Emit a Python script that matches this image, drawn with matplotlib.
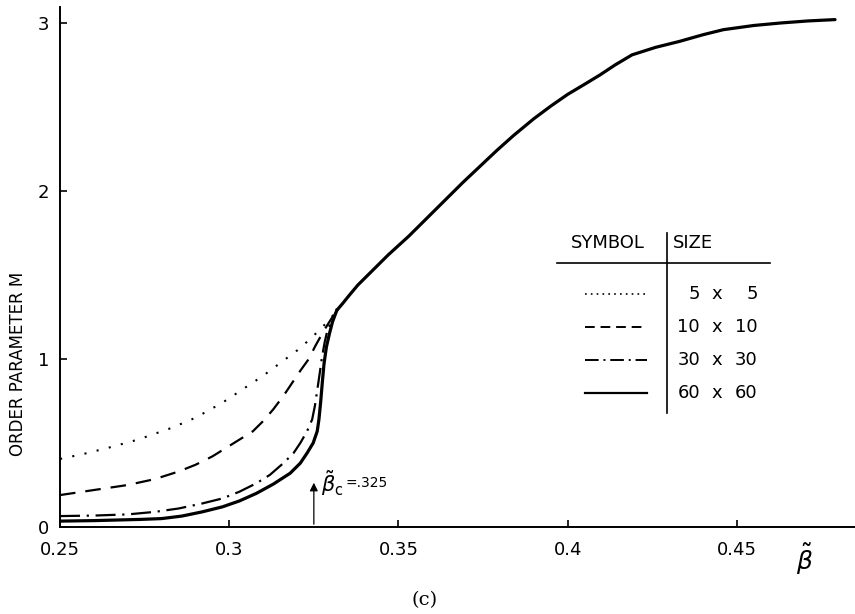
import matplotlib
matplotlib.use("Agg")
import matplotlib.pyplot as plt

# wspolna czesc krzywej (powyzej punktu zlaczenia)
beta_common = [0.3318, 0.3335, 0.3355, 0.338, 0.342, 0.347, 0.353, 0.359,
               0.364, 0.369, 0.374, 0.379, 0.384, 0.390, 0.395, 0.400,
               0.405, 0.4095, 0.414, 0.419, 0.426, 0.433, 0.440, 0.446,
               0.455, 0.463, 0.471, 0.479]
m_common = [1.29, 1.33, 1.38, 1.44, 1.52, 1.62, 1.73, 1.85,
            1.95, 2.05, 2.145, 2.24, 2.33, 2.43, 2.505, 2.575,
            2.635, 2.69, 2.75, 2.81, 2.855, 2.89, 2.93, 2.96,
            2.985, 3.00, 3.012, 3.02]

# dolne galezie dla kolejnych rozmiarow sieci
beta_5 = [0.25, 0.257, 0.264, 0.273, 0.283, 0.290, 0.298, 0.304, 0.310,
          0.315, 0.320, 0.324, 0.327, 0.3295, 0.3318]
m_5 = [0.405, 0.435, 0.47, 0.52, 0.59, 0.65, 0.74, 0.82, 0.90,
       0.975, 1.05, 1.12, 1.18, 1.23, 1.29]

beta_10 = [0.25, 0.26, 0.27, 0.278, 0.285, 0.29, 0.295, 0.299, 0.303, 0.307,
           0.31, 0.313, 0.316, 0.319, 0.321, 0.3235, 0.3255, 0.328, 0.3305,
           0.3318]
m_10 = [0.19, 0.22, 0.25, 0.285, 0.33, 0.37, 0.42, 0.47, 0.52, 0.57,
        0.63, 0.70, 0.78, 0.87, 0.93, 1.00, 1.08, 1.17, 1.25, 1.29]

beta_30 = [0.25, 0.26, 0.27, 0.278, 0.285, 0.292, 0.298, 0.303, 0.308, 0.312,
           0.316, 0.319, 0.321, 0.323, 0.3245, 0.3253, 0.3259, 0.3267, 0.3274,
           0.3282, 0.329, 0.3305, 0.3318]
m_30 = [0.065, 0.068, 0.075, 0.09, 0.11, 0.14, 0.17, 0.21, 0.26, 0.31,
        0.38, 0.44, 0.50, 0.57, 0.64, 0.72, 0.80, 0.91, 1.01,
        1.10, 1.17, 1.24, 1.29]

beta_60 = [0.25, 0.26, 0.2736, 0.28, 0.286, 0.292, 0.298, 0.303, 0.308, 0.313,
           0.318, 0.321, 0.323, 0.3248, 0.326, 0.3265, 0.327, 0.3275, 0.328,
           0.3287, 0.3296, 0.3305, 0.3318]
m_60 = [0.035, 0.038, 0.045, 0.05, 0.065, 0.09, 0.12, 0.155, 0.20, 0.255,
        0.32, 0.38, 0.44, 0.50, 0.57, 0.64, 0.74, 0.86, 0.97,
        1.07, 1.15, 1.22, 1.29]

sizes = ["5", "10", "30", "60"]
beta_c = 0.325

x_ticks = [0.25, 0.3, 0.35, 0.4, 0.45]
x_labels = ["0.25", "0.3", "0.35", "0.4", "0.45"]
y_ticks = [0, 1, 2, 3]

styles = [
    dict(linestyle=(0, (1, 5)), linewidth=1.5),
    dict(linestyle=(0, (7, 4.5)), linewidth=1.6),
    dict(linestyle=(0, (9, 3, 1, 3)), linewidth=1.6),
    dict(linestyle="-", linewidth=2.3),
]
legend_styles = [
    dict(linestyle=(0, (1, 2.5)), linewidth=1.2),
    dict(linestyle=(0, (5, 3)), linewidth=1.4),
    dict(linestyle=(0, (7, 2.5, 1, 2.5)), linewidth=1.4),
    dict(linestyle="-", linewidth=1.6),
]

fig = plt.figure(figsize=(8.55, 6.14), dpi=100)
ax = fig.add_axes([0.0702, 0.1417, 0.9298, 0.8469])

lows = [(beta_5, m_5), (beta_10, m_10), (beta_30, m_30), (beta_60, m_60)]
for (b, m), st in zip(lows, styles):
    ax.plot(b, m, color="black", **st)
ax.plot(beta_common, m_common, color="black", linewidth=2.3,
        solid_capstyle="round", solid_joinstyle="round")

ax.set_xlim(0.25, 0.4849)
ax.set_ylim(0, 3.095)
for side in ("top", "right"):
    ax.spines[side].set_visible(False)
for side in ("left", "bottom"):
    ax.spines[side].set_linewidth(1.4)
ax.set_xticks(x_ticks)
ax.set_xticklabels(x_labels)
ax.set_yticks(y_ticks)
ax.set_yticklabels([str(v) for v in y_ticks])
ax.tick_params(direction="in", length=5, width=1.2, labelsize=13)
ax.tick_params(axis="x", pad=10)
ax.tick_params(axis="y", pad=8)

# strzalka beta_c
ax.annotate("", xy=(beta_c, 0.28), xytext=(beta_c, 0),
            arrowprops=dict(arrowstyle="-|>", color="black", lw=0.9,
                            mutation_scale=12))
ax.text(0.3272, 0.26, r"$\tilde{\beta}_{\mathrm{c}}$", fontsize=15,
        ha="left", va="center")
ax.text(0.3345, 0.26, "=.325", fontsize=10, ha="left", va="center")

# tabelka z legenda
ax.plot([0.3968, 0.4597], [1.57, 1.57], color="black", lw=1.2)
ax.plot([0.4293, 0.4293], [0.68, 1.75], color="black", lw=1.2)
ax.text(0.4119, 1.69, "SYMBOL", fontsize=13, ha="center", va="center")
ax.text(0.4311, 1.69, "SIZE", fontsize=13, ha="left", va="center")
row_y = [1.387, 1.19, 0.994, 0.798]
for n, y, st in zip(sizes, row_y, legend_styles):
    ax.plot([0.4051, 0.4234], [y, y], color="black", **st)
    ax.text(0.4391, y, n, fontsize=13, ha="right", va="center")
    ax.text(0.4441, y, "x", fontsize=13, ha="center", va="center")
    ax.text(0.4562, y, n, fontsize=13, ha="right", va="center")

fig.text(0.021, 0.407, "ORDER PARAMETER M", rotation=90, fontsize=12,
         ha="center", va="center")
fig.text(0.9415, 0.088, r"$\tilde{\beta}$", fontsize=18, ha="center",
         va="center")
fig.text(0.497, 0.022, "(c)", fontsize=14, family="DejaVu Serif",
         ha="center", va="center")

fig.savefig("out.png", dpi=100)
